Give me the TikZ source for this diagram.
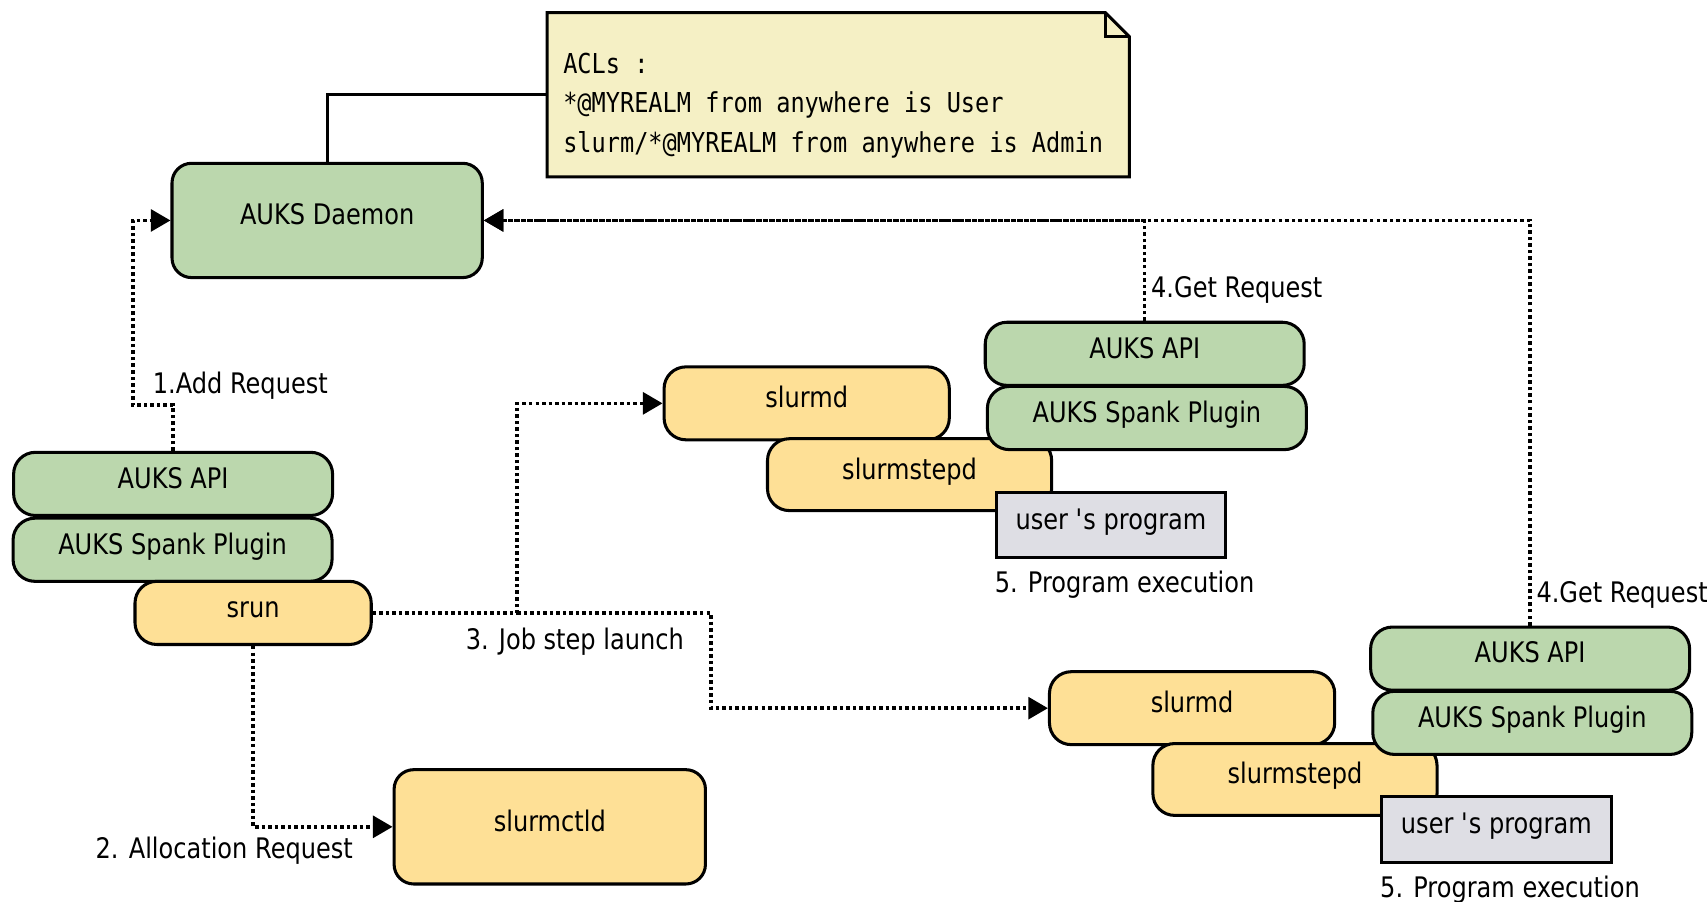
\documentclass[tikz,border=0pt]{standalone}
\usepackage{fontspec}
\setmainfont{DejaVu Sans}[FakeStretch=0.85]
\newfontfamily\aclfont{DejaVu Sans Mono}[FakeStretch=0.86]
\usetikzlibrary{arrows.meta}
\definecolor{auksgreen}{RGB}{187,215,173}
\definecolor{slurmyellow}{RGB}{254,224,150}
\definecolor{proggray}{RGB}{222,222,228}
\definecolor{notefill}{RGB}{245,240,197}

\tikzset{
  comp/.style={draw, line width=1.4pt, inner sep=0pt, text height=9pt, text depth=5pt, font=\fontsize{13}{15}\selectfont},
  auksbox/.style={comp, fill=auksgreen, rounded corners=10pt, minimum width=146.5pt, minimum height=29pt},
  slurmbox/.style={comp, fill=slurmyellow, rounded corners=10pt},
  progbox/.style={comp, fill=proggray, minimum width=105.5pt, minimum height=30pt},
  lbl/.style={inner sep=0pt, text height=9pt, text depth=5pt, font=\fontsize{13}{15}\selectfont},
  flow/.style={line width=1.6pt, dash pattern=on 1.6pt off 1.4pt, -{Triangle[length=9pt,width=10pt]}},
}

\begin{document}
\begin{tikzpicture}[x=0.5pt, y=-0.5pt]
  \useasboundingbox (0,0) rectangle (1568,828);
  % ACL note
  \node[minimum width=267pt, minimum height=75pt, inner sep=0pt] (note) at (770,87) {};
  \draw[line width=1.4pt, fill=notefill] (note.south west) -- (note.north west) -- ([xshift=-11pt]note.north east) -- ([yshift=-11pt]note.north east) -- (note.south east) -- cycle;
  \draw[line width=1pt] ([xshift=-11pt]note.north east) |- ([yshift=-11pt]note.north east);
  \node[anchor=west, align=left, inner sep=0pt, font=\aclfont\fontsize{12.6}{18}\selectfont] (acl) at (517,97) {ACLs :\\{}*@MYREALM from anywhere is User\\{}slurm/*@MYREALM from anywhere is Admin};
  % daemon
  \node[comp, fill=auksgreen, rounded corners=9pt, minimum width=142.5pt, minimum height=52.5pt] (daemon) at (300.5,202.5) {AUKS Daemon};
  \draw[line width=1.4pt] (note.west) -| (daemon.north);

  % submission side
  \node[auksbox] (apiL) at (159,444.5) {AUKS API};
  \node[auksbox] (spankL) at (158.5,505) {AUKS Spank Plugin};
  \node[slurmbox, minimum width=108.5pt, minimum height=29pt] (srun) at (232.5,563) {srun};
  \node[slurmbox, rounded corners=9pt, minimum width=143pt, minimum height=52.5pt] (ctld) at (505,759.5) {slurmctld};

  % compute nodes
  \foreach \g/\dx/\dy in {A/0/0, B/354/280} {
    \node[slurmbox, minimum width=131pt, minimum height=33.5pt] (slurmd\g) at (741+\dx,370.5+\dy) {slurmd};
    \node[slurmbox, minimum width=130.5pt, minimum height=33pt] (stepd\g) at (835.5+\dx,436+\dy) {slurmstepd};
    \node[auksbox] (api\g) at (1051.5+\dx,325+\dy) {AUKS API};
    \node[auksbox] (spank\g) at (1053.5+\dx,384+\dy) {AUKS Spank Plugin};
    \node[progbox] (prog\g) at (1020.5+\dx,482+\dy) {user {\textquotesingle}s program};
    \node[lbl, anchor=west] (get\g) at (1057+\dx,269+\dy) {4.Get Request};
    \node[lbl] (exec\g) at (1033+\dx,540+\dy) {5. Program execution};
  }

  % requests
  \coordinate (addc) at (122,372);
  \draw[flow] (apiL.north) |- (addc) |- (daemon.west);
  \node[lbl, anchor=west] (addlbl) at (140,357) {1.Add Request};
  \draw[flow] (srun.south) |- (ctld.west);
  \node[lbl] (alloclbl) at (206,785) {2. Allocation Request};
  \coordinate (launchA) at (475,563);
  \coordinate (launchB) at (653,563);
  \draw[flow] (srun.east) -- (launchA) |- (slurmdA.west);
  \draw[flow] (launchA) -- (launchB) |- (slurmdB.west);
  \node[lbl] (launchlbl) at (528,593) {3. Job step launch};
  \draw[flow] (apiA.north) |- (daemon.east);
  \draw[flow] (apiB.north) |- (daemon.east);
\end{tikzpicture}
\end{document}
